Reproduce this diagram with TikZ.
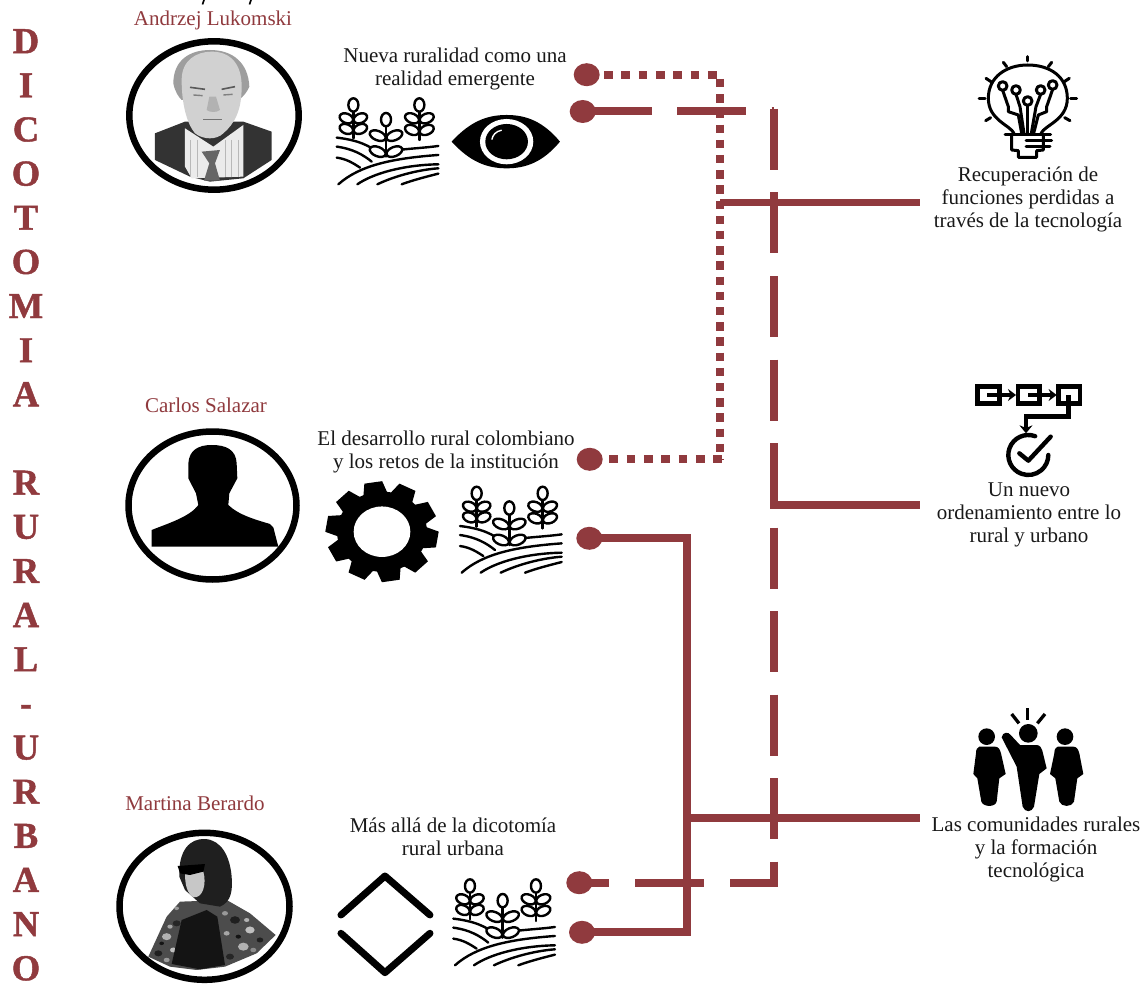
\documentclass[tikz,border=0pt]{standalone}
\usepackage{fontspec}
\setmainfont{Liberation Serif}
\newfontface\sidefont{Liberation Serif Bold}[FakeBold=1.2]
\usetikzlibrary{shapes.geometric,arrows.meta}
\definecolor{maroon}{HTML}{903A3E}
\tikzset{
  x=1pt,y=-1pt,
  txt/.style={font=\fontsize{21}{23}\selectfont,align=center,inner sep=0pt,text=black!90},
  who/.style={font=\fontsize{21}{23}\selectfont,inner sep=0pt,text=maroon},
  side/.style={font=\sidefont\fontsize{36.5}{44.15}\selectfont,align=center,inner sep=0pt,text=maroon},
  dot/.style={ellipse,fill=maroon,inner sep=0pt,minimum width=26pt,minimum height=23pt},
  lnk/.style={draw=maroon,line width=8pt},
  hdash/.style={lnk,dash pattern=on 69pt off 25.5pt},
  vdash/.style={lnk,dash pattern=on 61pt off 22.5pt},
  ring/.style={draw=black,line width=6.5pt},
  ink/.style={draw=black,line width=2.4pt,line cap=round,line join=round},
  leaf/.style={draw=black,fill=white,line width=2.4pt},
  plant/.pic={
    \begin{scope}[scale=0.3333]
      \draw[ink] (0,118) .. controls (60,125) and (100,140) .. (135,172);
      \draw[ink] (185,155) .. controls (230,150) and (270,148) .. (305,143);
      \draw[ink] (0,145) .. controls (50,152) and (80,170) .. (105,190);
      \draw[ink] (0,178) .. controls (30,182) and (50,195) .. (70,208);
      \draw[ink] (5,258) .. controls (70,200) and (170,180) .. (305,170);
      \draw[ink] (62,258) .. controls (110,225) and (200,200) .. (305,198);
      \draw[ink] (122,258) .. controls (170,235) and (240,215) .. (305,210);
      \draw[ink] (195,258) .. controls (230,245) and (270,235) .. (305,226);
      \foreach \cx/\cy/\ya/\yb/\yc/\dx/\lr in {50/20/60/92/120/21/21,248/20/60/95/125/22/22,148/64/112/160/175/25/25}{
        \draw[ink] (\cx,\cy+20) -- (\cx,\yc);
        \draw[leaf] (\cx,\cy) circle[x radius=15,y radius=20];
        \draw[leaf] (\cx-\dx,\ya) circle[x radius=\lr,y radius=14,rotate=-22];
        \draw[leaf] (\cx+\dx,\ya) circle[x radius=\lr,y radius=14,rotate=22];
        \draw[leaf] (\cx-\dx,\yb) circle[x radius=\lr,y radius=14,rotate=-22];
        \draw[leaf] (\cx+\dx,\yb) circle[x radius=\lr,y radius=14,rotate=22];
      }
    \end{scope}
  }
}
\begin{document}
\begin{tikzpicture}
\useasboundingbox (0,0) rectangle (1145,984);
\fill[white] (0,0) rectangle (1145,984);

% side title
\node[side,anchor=north] (title) at (26,29) {D\\I\\C\\O\\T\\O\\M\\I\\A\\\mbox{}\\R\\U\\R\\A\\L\\-\\U\\R\\B\\A\\N\\O};

% clipped line above the first name
\draw[black,line width=1.6pt] (204,0) -- (202.5,4.5);
\draw[black,line width=1.6pt] (251,0) -- (249.5,4.5);

% names
\node[who] (n1) at (213,20) {Andrzej Lukomski};
\node[who] (n2) at (206,405) {Carlos Salazar};
\node[who] (n3) at (195,803) {Martina Berardo};

% titles
\node[txt] (t1) at (455,68.5) {Nueva ruralidad como una\\realidad emergente};
\node[txt] (t2) at (446,452) {El desarrollo rural colombiano\\y los retos de la institución};
\node[txt] (t3) at (453,837) {Más allá de la dicotomía\\rural urbana};

% right labels
\node[txt] (r1) at (1028,199) {Recuperación de\\funciones perdidas a\\través de la tecnología};
\node[txt] (r2) at (1029,515) {Un nuevo\\ordenamiento entre lo\\rural y urbano};
\node[txt] (r3) at (1036,849.5) {Las comunidades rurales\\y la formación\\tecnológica};

% junctions
\coordinate (q1) at (720,74.7);
\coordinate (q2) at (724,459.3);
\coordinate (j1) at (720,202.7);
\coordinate (e1) at (920,202.7);
\coordinate (a1) at (774,111.5);
\coordinate (a2) at (774,109);
\coordinate (a3) at (770,505);
\coordinate (a4) at (774,505);
\coordinate (a5) at (774,886.5);
\coordinate (a6) at (778,882.7);
\coordinate (e2) at (920,505);
\coordinate (b1) at (687,538.3);
\coordinate (b2) at (687,932.3);
\coordinate (b3) at (687,818);
\coordinate (e3) at (920,818);

% dots
\node[dot] (d1) at (586.7,74.7) {};
\node[dot] (d2) at (582.7,111.5) {};
\node[dot] (d3) at (589.7,459.3) {};
\node[dot] (d4) at (589.3,538.3) {};
\node[dot] (d5) at (579.3,882.7) {};
\node[dot] (d6) at (582,932.3) {};

% dotted connector
\draw[lnk,dash pattern=on 8.7pt off 8.6pt] (d1.center) -- (q1);
\draw[lnk,dash pattern=on 8.4pt off 6.8pt,dash phase=10.9pt] (q1) -- (720,459.3);
\draw[lnk,dash pattern=on 8.7pt off 8.6pt,dash phase=15pt] (d3.center) -- (q2);
% long dashes
\draw[hdash] (d2.center) -- (a1);
\draw[vdash] (a2) -- (a3 -| a2);
\draw[vdash,dash phase=61pt] (a4) -- (a5);
\draw[lnk,dash pattern=on 30pt off 26pt on 69pt off 26pt on 60pt] (d5.center) -- (a6);
% solid
\draw[lnk,line width=7.5pt] (j1) -- (e1);
\draw[lnk,line width=7.5pt] (a3) -- (e2);
\draw[lnk,line cap=butt] (d4.center) -- (b1) -- (b2) -- (d6.center);
\draw[lnk,line width=7.5pt] (b3) -- (e3);

% rings
\draw[ring] (214,115.5) circle[x radius=84.7,y radius=74.2];
\draw[ring] (212.5,505.5) circle[x radius=84,y radius=74];
\draw[ring] (204.5,906.3) circle[x radius=85,y radius=73.5];

% photo 1
\begin{scope}[shift={(110,0)},scale=0.3333]
  \fill[black!80] (135,400) -- (225,365) -- (400,365) -- (485,395) -- (485,480) -- (400,535) -- (300,545) -- (240,530) -- (135,480) -- cycle;
  \fill[black!8] (225,385) -- (225,500) -- (245,535) -- (400,530) -- (400,375) -- (310,440) -- cycle;
  \foreach \x in {240,262,345,365,385}{\draw[black!28,line width=.8pt] (\x,420) -- (\x,530);}
  \fill[black!60] (275,455) -- (330,450) -- (315,490) -- (330,542) -- (282,542) -- (298,490) -- cycle;
  \fill[black!38] (190,250) .. controls (190,180) and (240,150) .. (300,150) .. controls (370,150) and (415,190) .. (418,260) .. controls (405,290) and (385,300) .. (385,300) -- (215,300) .. controls (205,290) and (195,275) .. (190,250) -- cycle;
  \fill[black!18] (215,240) .. controls (215,180) and (260,155) .. (305,155) .. controls (360,155) and (395,190) .. (395,260) .. controls (395,330) and (375,370) .. (340,400) .. controls (320,420) and (280,420) .. (255,400) .. controls (230,370) and (215,310) .. (215,240) -- cycle;
  \draw[black!65,line width=1.6pt] (240,262) -- (285,268);
  \draw[black!65,line width=1.6pt] (335,268) -- (375,260);
  \draw[black!50,line width=1.4pt] (250,285) -- (278,287);
  \draw[black!50,line width=1.4pt] (340,285) -- (368,283);
  \fill[black!30] (290,330) .. controls (300,338) and (320,338) .. (330,330) -- (318,290) -- (298,290) -- cycle;
  \draw[black!55,line width=1.4pt] (280,358) -- (335,358);
\end{scope}

% silhouette
\begin{scope}[shift={(110,390)},scale=0.3333]
  \fill[black] (235,220) .. controls (238,180) and (265,165) .. (305,165) .. controls (350,165) and (378,180) .. (380,220) -- (382,265) -- (358,310) -- (355,345) .. controls (385,375) and (440,390) .. (480,402) -- (490,412) -- (505,470) -- (125,470) -- (125,420) .. controls (175,400) and (240,380) .. (265,345) -- (258,310) -- (235,265) -- cycle;
\end{scope}

% photo 3
\begin{scope}[shift={(110,790)},scale=0.3333]
  \fill[black!70] (115,500) -- (170,380) -- (210,335) -- (350,330) -- (420,370) -- (497,435) -- (440,490) -- (345,530) -- (260,540) -- (180,530) -- cycle;
  \foreach \px/\py/\pr/\pc in {170/440/14/30,200/400/12/85,145/490/12/88,375/390/15/88,420/420/14/25,450/450/10/88,400/470/16/30,360/500/12/85,190/480/10/25,410/390/8/30,155/460/7/92,385/440/8/92,350/430/9/35,180/410/8/35,215/500/8/90,170/510/9/40,430/480/9/45,345/370/9/40,200/355/7/40}{
    \fill[black!\pc] (\px,\py) circle[x radius=\pr,y radius=\pr*0.75];
  }
  \fill[black!92] (185,522) -- (215,390) -- (290,360) -- (322,380) -- (345,525) -- (270,538) -- cycle;
  \fill[black!88] (208,260) .. controls (205,180) and (240,145) .. (285,147) .. controls (335,150) and (360,200) .. (365,260) .. controls (368,300) and (365,335) .. (330,350) -- (270,340) -- (225,300) -- cycle;
  \fill[black!22] (225,250) -- (280,245) .. controls (290,280) and (280,325) .. (250,322) .. controls (230,310) and (225,280) .. (225,250) -- cycle;
  \fill[black] (203,228) -- (285,222) -- (280,245) -- (240,255) -- (210,250) -- cycle;
\end{scope}

% plant icons
\pic at (336.7,98.3) {plant};
\pic at (460,486.7) {plant};
\pic at (453.3,879.3) {plant};

% eye
\begin{scope}[shift={(110,0)},scale=0.3333]
  \fill[black] (1025,425) .. controls (1080,365) and (1130,345) .. (1190,345) .. controls (1250,345) and (1300,365) .. (1350,425) .. controls (1300,485) and (1250,505) .. (1190,505) .. controls (1130,505) and (1080,485) .. (1025,425) -- cycle;
  \fill[white] (1190,425) circle[x radius=80,y radius=68];
  \fill[black] (1190,425) circle[x radius=64,y radius=53];
  \draw[white,line width=1.4pt,line cap=round] (1146,418) .. controls (1148,405) and (1158,394) .. (1174,391);
\end{scope}

% gear
\begin{scope}[shift={(382,531.7)},xscale=0.3333,yscale=0.297]
  \fill[black] (0,0) circle[radius=135];
  \foreach \a in {27,63,99,135,171,207,243,279,315,351}{
    \fill[rotate=\a] (120,-38) -- (168,-27) -- (168,27) -- (120,38) -- cycle;
  }
  \fill[white] (0,0) circle[radius=85];
\end{scope}

% diamond
\begin{scope}[shift={(110,790)},scale=0.3333]
  \draw[black,line width=7pt,line cap=round,line join=round] (693,375) -- (825,258) -- (960,375);
  \draw[black,line width=7pt,line cap=round,line join=round] (693,430) -- (825,548) -- (960,430);
\end{scope}

% bulb
\begin{scope}[shift={(940,50)},scale=0.3333,ink/.append style={line width=3pt}]
  \draw[ink] (222,250) .. controls (210,225) and (145,210) .. (145,145) .. controls (145,80) and (200,45) .. (263,45) .. controls (330,45) and (382,80) .. (382,145) .. controls (382,210) and (315,225) .. (303,250);
  \draw[ink] (195,253) -- (332,253);
  \draw[ink] (215,253) -- (215,300) -- (235,302) -- (235,322) -- (290,322) -- (290,302) -- (310,300) -- (310,253);
  \draw[ink] (258,272) -- (335,272);
  \draw[ink] (258,290) -- (330,290);
  \foreach \xa/\ya/\xb/\yb in {263/20/263/33,190/37/200/50,335/37/325/50,138/85/153/95,388/85/373/95,117/147/135/147,392/147/410/147,137/212/152/203,390/212/374/203}{
    \draw[ink] (\xa,\ya) -- (\xb,\yb);
  }
  \foreach \xa/\ya in {188/108,228/120,263/153,302/120,338/105}{
    \draw[ink] (\xa,\ya) circle[radius=13];
  }
  \draw[ink] (188,121) -- (205,170) -- (205,185) -- (235,195) -- (245,250);
  \draw[ink] (228,133) -- (240,170) -- (252,250);
  \draw[ink] (263,166) -- (263,250);
  \draw[ink] (302,133) -- (288,170) -- (274,250);
  \draw[ink] (338,118) -- (320,170) -- (320,185) -- (295,195) -- (281,250);
\end{scope}

% process icon
\begin{scope}[shift={(950,370)},scale=0.3333,ink/.append style={line width=4.4pt,line cap=butt,line join=miter}]
  \draw[ink] (82,50) rectangle (148,100);
  \draw[ink] (204,50) rectangle (268,100);
  \draw[ink] (326,50) rectangle (390,100);
  \draw[ink,-{Stealth[length=8pt,width=12pt]}] (112,75) -- (198,75);
  \draw[ink,-{Stealth[length=8pt,width=12pt]}] (234,75) -- (320,75);
  \draw[ink,-{Stealth[length=8pt,width=13pt]}] (355,75) -- (355,140) -- (228,140) -- (228,190);
  \draw[ink,line cap=round] (255.5,198.6) arc[start angle=70,end angle=360,radius=60pt];
  \draw[ink,line cap=round,line join=round] (208,250) -- (235,272) -- (302,200);
\end{scope}

% people icon
\begin{scope}[shift={(920,700)},scale=0.3333]
  \fill[black] (200,110) circle[radius=25];
  \fill[black] (178,140) -- (225,140) .. controls (235,140) and (240,148) .. (243,160) -- (257,222) -- (238,235) -- (230,305) .. controls (226,322) and (190,322) .. (184,305) -- (172,235) -- (160,222) -- (168,160) .. controls (168,148) and (172,142) .. (178,140) -- cycle;
  \fill[black] (435,110) circle[radius=25];
  \fill[black] (413,140) -- (460,140) .. controls (470,140) and (475,148) .. (478,160) -- (490,222) -- (472,235) -- (462,305) .. controls (456,322) and (424,322) .. (418,305) -- (406,235) -- (390,222) -- (403,160) .. controls (403,148) and (407,142) .. (413,140) -- cycle;
  \fill[black] (325,100) circle[radius=28];
  \fill[black] (245,112) .. controls (248,95) and (265,95) .. (272,105) -- (300,135) -- (350,135) .. controls (360,135) and (365,145) .. (367,152) -- (380,205) -- (358,222) -- (342,320) .. controls (335,338) and (315,338) .. (308,320) -- (290,200) -- cycle;
  \draw[black,line width=3.3pt] (275,42) -- (297,70);
  \draw[black,line width=3.3pt] (323,25) -- (323,60);
  \draw[black,line width=3.3pt] (375,42) -- (352,70);
\end{scope}
\end{tikzpicture}
\end{document}
